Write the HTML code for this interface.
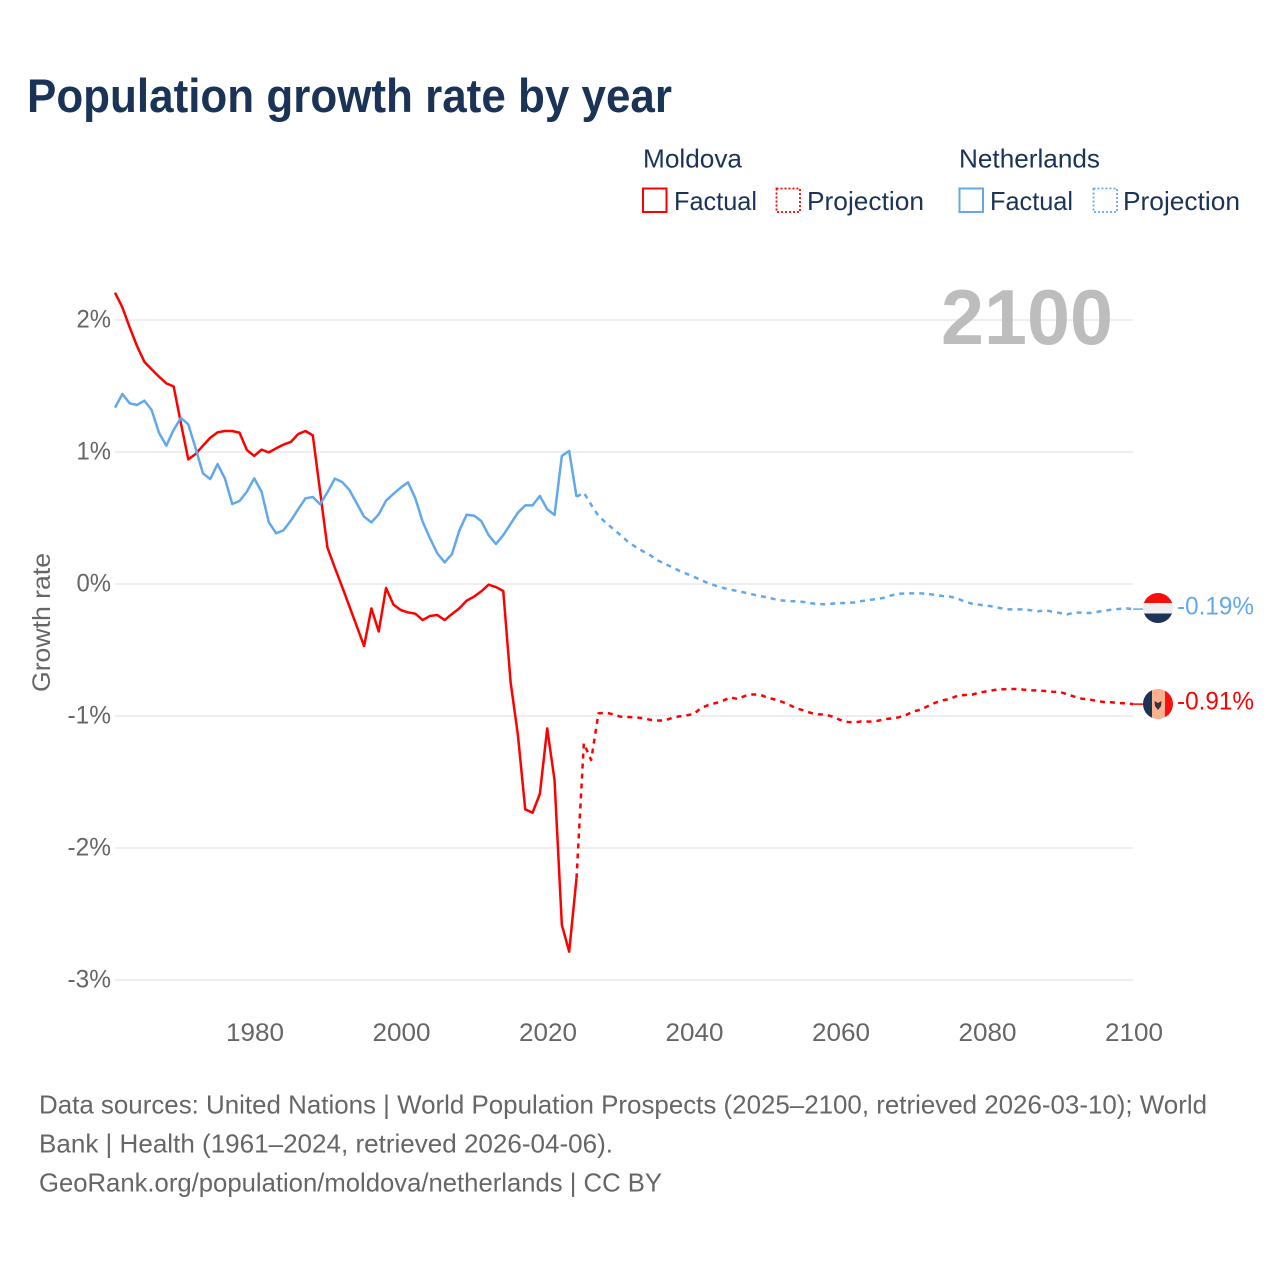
<!DOCTYPE html>
<html lang="en">
<head>
<meta charset="utf-8">
<title>Population growth rate by year</title>
<style>
  html, body { margin: 0; padding: 0; background: #ffffff; }
  #chart { display: block; width: 1280px; height: 1280px; font-family: "Liberation Sans", sans-serif; }
</style>
</head>
<body>
<svg id="chart" xmlns="http://www.w3.org/2000/svg" width="1280" height="1280" viewBox="0 0 1280 1280">
  <defs>
    <clipPath id="flag-clip-nl"><circle cx="1158" cy="608" r="15"></circle></clipPath>
    <clipPath id="flag-clip-md"><circle cx="1158" cy="704" r="15"></circle></clipPath>
  </defs>
  <rect x="0" y="0" width="1280" height="1280" fill="#ffffff"></rect>

  <text x="27" y="112" font-size="47" font-weight="700" fill="#1a3357" textLength="645" lengthAdjust="spacingAndGlyphs">Population growth rate by year</text>

  <g font-size="26" fill="#1a3357">
    <text x="643" y="167.5" textLength="99" lengthAdjust="spacingAndGlyphs">Moldova</text>
    <g>
      <rect x="643" y="188.5" width="23.5" height="23.5" fill="none" stroke="#ff0000" stroke-width="2"></rect>
      <text x="674" y="210" textLength="83" lengthAdjust="spacingAndGlyphs">Factual</text>
    </g>
    <g>
      <rect x="776.5" y="188.5" width="23.5" height="23.5" fill="none" stroke="#ff0000" stroke-width="1.8" stroke-dasharray="2,2"></rect>
      <text x="807" y="210" textLength="117" lengthAdjust="spacingAndGlyphs">Projection</text>
    </g>
    <text x="959" y="167.5" textLength="141" lengthAdjust="spacingAndGlyphs">Netherlands</text>
    <g>
      <rect x="959.5" y="188.5" width="23.5" height="23.5" fill="none" stroke="#62a8ea" stroke-width="2"></rect>
      <text x="990" y="210" textLength="83" lengthAdjust="spacingAndGlyphs">Factual</text>
    </g>
    <g>
      <rect x="1093.5" y="188.5" width="23.5" height="23.5" fill="none" stroke="#62a8ea" stroke-width="1.8" stroke-dasharray="2,2"></rect>
      <text x="1123" y="210" textLength="117" lengthAdjust="spacingAndGlyphs">Projection</text>
    </g>
  </g>

  <g id="grid"></g>
  <g id="y-ticks"></g>
  <g id="x-ticks"></g>

  <text x="941" y="344" font-size="78" font-weight="700" fill="#bdbdbd" textLength="172" lengthAdjust="spacingAndGlyphs">2100</text>

  <text transform="translate(50 692) rotate(-90)" font-size="25" fill="#666666" textLength="139" lengthAdjust="spacingAndGlyphs">Growth rate</text>

  <g id="series"></g>
  <g id="end-labels"></g>

  <g clip-path="url(#flag-clip-nl)">
    <rect x="1143" y="593" width="30" height="10.5" fill="#f60d0d"></rect>
    <rect x="1143" y="603" width="30" height="10.5" fill="#eeeeee"></rect>
    <rect x="1143" y="613.5" width="30" height="10" fill="#1a3357"></rect>
  </g>
  <g clip-path="url(#flag-clip-md)">
    <rect x="1143" y="689" width="9" height="30" fill="#1a3357"></rect>
    <rect x="1152" y="689" width="13" height="30" fill="#fbb08f"></rect>
    <rect x="1165" y="689" width="8" height="30" fill="#fb0f0f"></rect>
    <path d="M1154.5 701 L1158 703 L1161.5 701 L1161 706 L1158 710 L1155 706 Z" fill="#3a2f3a"></path>
  </g>

  <g font-size="26" fill="#666666">
    <text x="39" y="1113.5" textLength="1168" lengthAdjust="spacingAndGlyphs">Data sources: United Nations | World Population Prospects (2025–2100, retrieved 2026-03-10); World</text>
    <text x="39" y="1152.5" textLength="574" lengthAdjust="spacingAndGlyphs">Bank | Health (1961–2024, retrieved 2026-04-06).</text>
    <text x="39" y="1191.5" textLength="623" lengthAdjust="spacingAndGlyphs">GeoRank.org/population/moldova/netherlands | CC BY</text>
  </g>
</svg>

<script>
const yTickValues = [2, 1, 0, -1, -2, -3];
const yTickLabels = ['2%', '1%', '0%', '-1%', '-2%', '-3%'];
const xTickValues = [1980, 2000, 2020, 2040, 2060, 2080, 2100];
const xTickLabels = ['1980', '2000', '2020', '2040', '2060', '2080', '2100'];

const factualStartYear = 1961;
const projectionStartYear = 2025;

const moldovaFactual = [
  2.207, 2.096, 1.945, 1.803, 1.684, 1.626, 1.571, 1.520, 1.497, 1.217,
  0.944, 0.985, 1.048, 1.108, 1.149, 1.159, 1.159, 1.146, 1.015, 0.970,
  1.018, 0.997, 1.028, 1.056, 1.076, 1.136, 1.159, 1.126, 0.700, 0.275,
  0.125, -0.020, -0.170, -0.320, -0.470, -0.185, -0.360, -0.030, -0.155, -0.197,
  -0.215, -0.225, -0.273, -0.242, -0.235, -0.273, -0.227, -0.185, -0.126, -0.096,
  -0.056, -0.005, -0.023, -0.053, -0.742, -1.144, -1.707, -1.733, -1.590, -1.094,
  -1.485, -2.583, -2.785, -2.230
];

const moldovaProjection = [
  -1.207, -1.333, -0.980, -0.975, -0.987, -1.005, -1.008, -1.010, -1.016, -1.028,
  -1.034, -1.034, -1.015, -1.003, -0.995, -0.985, -0.939, -0.917, -0.902, -0.884,
  -0.859, -0.871, -0.848, -0.837, -0.838, -0.859, -0.874, -0.891, -0.914, -0.942,
  -0.957, -0.977, -0.987, -0.990, -1.005, -1.030, -1.045, -1.048, -1.040, -1.043,
  -1.038, -1.025, -1.018, -1.010, -0.992, -0.965, -0.952, -0.924, -0.899, -0.881,
  -0.871, -0.846, -0.841, -0.838, -0.823, -0.813, -0.803, -0.798, -0.795, -0.795,
  -0.800, -0.806, -0.806, -0.811, -0.816, -0.818, -0.836, -0.854, -0.869, -0.874,
  -0.886, -0.894, -0.896, -0.902, -0.904, -0.910
];

const netherlandsFactual = [
  1.336, 1.439, 1.369, 1.356, 1.389, 1.318, 1.146, 1.048, 1.167, 1.258,
  1.210, 1.028, 0.838, 0.795, 0.909, 0.800, 0.606, 0.629, 0.700, 0.800,
  0.700, 0.467, 0.384, 0.407, 0.480, 0.566, 0.649, 0.659, 0.604, 0.695,
  0.798, 0.773, 0.712, 0.611, 0.510, 0.467, 0.528, 0.631, 0.682, 0.730,
  0.770, 0.649, 0.472, 0.346, 0.232, 0.164, 0.227, 0.404, 0.525, 0.518,
  0.477, 0.371, 0.303, 0.371, 0.455, 0.540, 0.596, 0.596, 0.667, 0.566,
  0.523, 0.970, 1.008, 0.661
];

const netherlandsProjection = [
  0.692, 0.601, 0.515, 0.465, 0.417, 0.371, 0.321, 0.283, 0.250, 0.220,
  0.182, 0.154, 0.129, 0.101, 0.078, 0.055, 0.030, 0.005, -0.013, -0.030,
  -0.043, -0.053, -0.066, -0.078, -0.091, -0.101, -0.114, -0.124, -0.129, -0.131,
  -0.136, -0.146, -0.152, -0.154, -0.149, -0.145, -0.144, -0.139, -0.129, -0.121,
  -0.114, -0.104, -0.086, -0.074, -0.071, -0.071, -0.071, -0.076, -0.083, -0.091,
  -0.096, -0.109, -0.134, -0.149, -0.157, -0.164, -0.172, -0.184, -0.192, -0.192,
  -0.192, -0.199, -0.207, -0.199, -0.210, -0.220, -0.230, -0.217, -0.217, -0.220,
  -0.212, -0.202, -0.195, -0.189, -0.184, -0.190
];

const endValueLabels = ['-0.19%', '-0.91%'];

const SVG_NS = 'http://www.w3.org/2000/svg';
const X_END_YEAR = 2100;
const X_END_PX = 1133.2;
const X_LABEL_OFFSET = 0.8;
const PX_PER_YEAR = 7.325;
const Y_ZERO_PX = 584;
const PX_PER_PERCENT = 132;

function xScale(year) {
  return X_END_PX + (year - X_END_YEAR) * PX_PER_YEAR;
}

function yScale(value) {
  return Y_ZERO_PX - value * PX_PER_PERCENT;
}

function labelWidth(label) {
  let width = 0;
  for (const ch of label) {
    if (ch === '%') { width += 20; }
    else if (ch === '-') { width += 9; }
    else if (ch === '.') { width += 6.5; }
    else { width += 14.5; }
  }
  return width;
}

function buildPath(startYear, values, prefixPoint) {
  const parts = [];
  if (prefixPoint) {
    parts.push(xScale(prefixPoint[0]).toFixed(2) + ',' + yScale(prefixPoint[1]).toFixed(2));
  }
  values.forEach(function (value, index) {
    parts.push(xScale(startYear + index).toFixed(2) + ',' + yScale(value).toFixed(2));
  });
  return 'M' + parts.join(' L');
}

const gridGroup = document.getElementById('grid');
const yTickGroup = document.getElementById('y-ticks');
yTickValues.forEach(function (value, index) {
  const gridLine = document.createElementNS(SVG_NS, 'line');
  gridLine.setAttribute('x1', 115);
  gridLine.setAttribute('x2', 1133);
  gridLine.setAttribute('y1', yScale(value));
  gridLine.setAttribute('y2', yScale(value));
  gridLine.setAttribute('stroke', '#eeeeee');
  gridLine.setAttribute('stroke-width', 2);
  
  
  gridGroup.appendChild(gridLine);

  const label = document.createElementNS(SVG_NS, 'text');
  const width = labelWidth(yTickLabels[index]);
  label.setAttribute('x', 111 - width);
  label.setAttribute('y', yScale(value) + 7.5);
  label.setAttribute('font-size', 25);
  label.setAttribute('fill', '#666666');
  label.setAttribute('textLength', width);
  label.setAttribute('lengthAdjust', 'spacingAndGlyphs');
  
  
  label.textContent = yTickLabels[index];
  yTickGroup.appendChild(label);
});

const xTickGroup = document.getElementById('x-ticks');
xTickValues.forEach(function (year, index) {
  const label = document.createElementNS(SVG_NS, 'text');
  const width = labelWidth(xTickLabels[index]);
  label.setAttribute('x', xScale(year) + X_LABEL_OFFSET - width / 2);
  label.setAttribute('y', 1041);
  label.setAttribute('font-size', 25);
  label.setAttribute('fill', '#666666');
  label.setAttribute('textLength', width);
  label.setAttribute('lengthAdjust', 'spacingAndGlyphs');
  
  
  label.textContent = xTickLabels[index];
  xTickGroup.appendChild(label);
});

const seriesGroup = document.getElementById('series');
const LEADER_END_PX = 1143;

function drawCountry(country, color, factual, projection) {
  const lastFactualYear = factualStartYear + factual.length - 1;
  const lastFactualValue = factual[factual.length - 1];

  const projectionPath = document.createElementNS(SVG_NS, 'path');
  projectionPath.setAttribute('d', buildPath(projectionStartYear, projection, [lastFactualYear, lastFactualValue]));
  projectionPath.setAttribute('fill', 'none');
  projectionPath.setAttribute('stroke', color);
  projectionPath.setAttribute('stroke-width', 2.5);
  projectionPath.setAttribute('stroke-dasharray', '5,5');
  projectionPath.setAttribute('stroke-linejoin', 'round');
  
  
  seriesGroup.appendChild(projectionPath);

  const factualPath = document.createElementNS(SVG_NS, 'path');
  factualPath.setAttribute('d', buildPath(factualStartYear, factual, null));
  factualPath.setAttribute('fill', 'none');
  factualPath.setAttribute('stroke', color);
  factualPath.setAttribute('stroke-width', 2.5);
  factualPath.setAttribute('stroke-linejoin', 'round');
  
  
  seriesGroup.appendChild(factualPath);

  const endValue = projection[projection.length - 1];
  const leader = document.createElementNS(SVG_NS, 'line');
  leader.setAttribute('x1', xScale(X_END_YEAR));
  leader.setAttribute('x2', LEADER_END_PX);
  leader.setAttribute('y1', yScale(endValue));
  leader.setAttribute('y2', yScale(endValue));
  leader.setAttribute('stroke', color);
  leader.setAttribute('stroke-width', 1.5);
  
  
  seriesGroup.appendChild(leader);
}

drawCountry('moldova', '#ff0000', moldovaFactual, moldovaProjection);
drawCountry('netherlands', '#62a8ea', netherlandsFactual, netherlandsProjection);

const endLabelGroup = document.getElementById('end-labels');

function drawEndLabel(text, color, value) {
  const label = document.createElementNS(SVG_NS, 'text');
  label.setAttribute('x', 1177);
  label.setAttribute('y', yScale(value) + 5.5);
  label.setAttribute('font-size', 25);
  label.setAttribute('fill', color);
  label.setAttribute('textLength', 77);
  label.setAttribute('lengthAdjust', 'spacingAndGlyphs');
  
  
  label.textContent = text;
  endLabelGroup.appendChild(label);
}

drawEndLabel(endValueLabels[0], '#62a8ea', netherlandsProjection[netherlandsProjection.length - 1]);
drawEndLabel(endValueLabels[1], '#ff0000', moldovaProjection[moldovaProjection.length - 1]);
</script>
</body>
</html>
